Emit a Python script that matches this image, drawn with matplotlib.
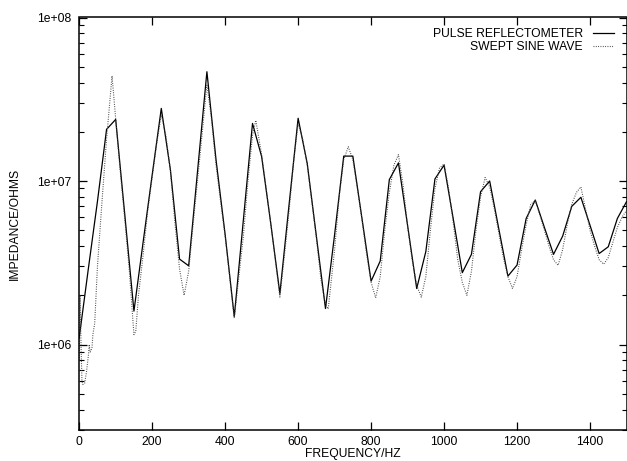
import numpy as np
import matplotlib
matplotlib.use("Agg")
import matplotlib.pyplot as plt
from matplotlib.ticker import FixedLocator, FixedFormatter, LogLocator, NullFormatter

# pulse reflectometer, sampled every 25 Hz
pulse_freq = np.arange(0, 1501, 25)
pulse_imp = [1.1e6, 2.9e6, 7.5e6, 2.07e7, 2.38e7, 6.2e6, 1.6e6, 4.2e6, 1.09e7, 2.78e7,
             1.17e7, 3.33e6, 3.03e6, 1.19e7, 4.66e7, 1.35e7, 4.7e6, 1.48e6, 5.8e6, 2.25e7,
             1.41e7, 5.5e6, 2.05e6, 7.1e6, 2.42e7, 1.28e7, 4.6e6, 1.66e6, 4.7e6, 1.42e7,
             1.42e7, 5.9e6, 2.44e6, 3.24e6, 1.02e7, 1.29e7, 5.35e6, 2.2e6, 3.7e6, 1.03e7,
             1.25e7, 5.9e6, 2.75e6, 3.56e6, 8.6e6, 1.0e7, 5.1e6, 2.62e6, 3.06e6, 5.9e6,
             7.65e6, 5.2e6, 3.56e6, 4.6e6, 7.0e6, 7.95e6, 5.36e6, 3.6e6, 3.96e6, 5.9e6,
             7.47e6]

# swept sine wave
swept_freq = [0, 2.5, 5, 7.5, 10, 15, 20, 25, 27.5, 30, 35, 37.5, 42.5, 50, 62.5, 75, 87.5, 90,
              100, 112.5, 125, 137.5, 150, 155, 162.5, 175, 187.5, 200, 212.5, 225, 237.5,
              250, 262.5, 275, 287.5, 300, 312.5, 325, 337.5, 350, 362.5, 375, 387.5, 400,
              412.5, 425, 437.5, 450, 462.5, 475, 484, 500, 512.5, 525, 537.5, 550, 562.5,
              575, 587.5, 600, 612.5, 625, 637.5, 650, 662.5, 675, 682.5, 700, 712.5, 725,
              737.5, 750, 762.5, 775, 787.5, 800, 812.5, 825, 837.5, 850, 862.5, 875, 887.5,
              900, 912.5, 925, 937.5, 950, 962.5, 975, 987.5, 1000, 1012.5, 1025, 1037.5,
              1050, 1062.5, 1075, 1087.5, 1100, 1112.5, 1125, 1137.5, 1150, 1162.5, 1175,
              1187.5, 1200, 1212.5, 1225, 1237.5, 1250, 1262.5, 1275, 1287.5, 1300, 1312.5,
              1325, 1337.5, 1350, 1362.5, 1375, 1387.5, 1400, 1412.5, 1425, 1437.5, 1450,
              1462.5, 1475, 1487.5, 1500]
swept_imp = [8.0e5, 2.0e6, 1.0e6, 6.0e5, 5.7e5, 5.8e5, 6.8e5, 8.5e5, 1.0e6, 9.0e5, 9.5e5,
             1.15e6, 1.35e6, 3.0e6, 7.5e6, 1.8e7, 3.8e7, 4.4e7,
             2.4e7, 1.15e7, 5.8e6, 2.8e6, 1.15e6, 1.2e6, 2.0e6, 3.5e6, 6.5e6, 1.05e7, 1.7e7,
             2.55e7, 1.9e7, 1.15e7, 5.5e6, 2.9e6, 2.0e6, 2.8e6, 5.5e6, 1.05e7, 2.0e7, 3.9e7,
             2.4e7, 1.25e7, 7.5e6, 4.6e6, 2.6e6, 1.45e6, 2.6e6, 4.6e6, 1.0e7, 1.9e7, 2.35e7,
             1.45e7, 9.0e6, 5.5e6, 3.3e6, 1.95e6, 3.5e6, 6.5e6, 1.3e7, 2.25e7, 1.8e7, 1.25e7,
             7.5e6, 4.5e6, 2.5e6, 1.75e6, 1.65e6, 3.8e6, 8.0e6, 1.35e7, 1.62e7, 1.35e7, 9.0e6,
             5.8e6, 3.6e6, 2.4e6, 1.93e6, 2.6e6, 5.0e6, 8.5e6, 1.25e7, 1.45e7, 9.5e6, 5.3e6,
             3.3e6, 2.3e6, 1.95e6, 2.6e6, 5.0e6, 9.0e6, 1.2e7, 1.27e7, 9.0e6, 5.6e6, 3.3e6,
             2.4e6, 2.0e6, 2.8e6, 5.0e6, 8.0e6, 1.05e7, 9.2e6, 6.8e6, 4.8e6, 3.4e6, 2.6e6,
             2.2e6, 2.6e6, 3.8e6, 5.4e6, 7.2e6, 7.6e6, 6.2e6, 5.0e6, 4.0e6, 3.3e6, 3.05e6,
             3.8e6, 5.4e6, 7.2e6, 8.5e6, 9.2e6, 6.8e6, 5.0e6, 4.0e6, 3.3e6, 3.1e6, 3.4e6,
             4.2e6, 5.2e6, 6.0e6, 6.6e6]

ytick_vals = [1e6, 1e7, 1e8]
ytick_labels = ["1e+06", "1e+07", "1e+08"]
xtick_vals = [0, 200, 400, 600, 800, 1000, 1200, 1400]

plt.rcParams['font.family'] = ['Liberation Sans', 'DejaVu Sans']
fs = 8.7

fig = plt.figure(figsize=(6.27, 4.61), dpi=100)
ax = fig.add_axes([79.2 / 627, 1 - 430 / 461, (626.5 - 79.2) / 627, (430 - 17.5) / 461])

ax.plot(pulse_freq, pulse_imp, color='black', lw=0.9, label='PULSE REFLECTOMETER')
ax.plot(swept_freq, swept_imp, color='0.25', lw=0.8, dashes=(0.8, 1.3),
        label='SWEPT SINE WAVE')

ax.set_yscale('log')
ax.set_xlim(0, 1500)
ax.set_ylim(3e5, 1e8)

ax.yaxis.set_major_locator(FixedLocator(ytick_vals))
ax.yaxis.set_major_formatter(FixedFormatter(ytick_labels))
ax.yaxis.set_minor_locator(LogLocator(base=10, subs=np.arange(2, 10)))
ax.yaxis.set_minor_formatter(NullFormatter())
ax.set_xticks(xtick_vals)
ax.set_xticklabels([str(v) for v in xtick_vals])

ax.tick_params(which='major', direction='in', length=6, width=0.9, top=True, right=True,
               labelsize=fs, pad=4.5)
ax.tick_params(axis='y', which='major', pad=5.5)
ax.tick_params(which='minor', direction='in', length=3.5, width=0.8, right=True)
for s in ax.spines.values():
    s.set_linewidth(1.1)

ax.set_xlabel('FREQUENCY/HZ', fontsize=fs)
ax.set_ylabel('IMPEDANCE/OHMS', fontsize=fs)
ax.xaxis.set_label_coords(0.5, -0.0445)
ax.yaxis.set_label_coords(-0.106, 0.5)

leg = ax.legend(loc='upper right', bbox_to_anchor=(0.978, 0.975), frameon=False,
                markerfirst=False, fontsize=fs, handlelength=1.8, handletextpad=0.8,
                labelspacing=0.1, borderaxespad=0, borderpad=0)

fig.savefig('out.png', dpi=100)
